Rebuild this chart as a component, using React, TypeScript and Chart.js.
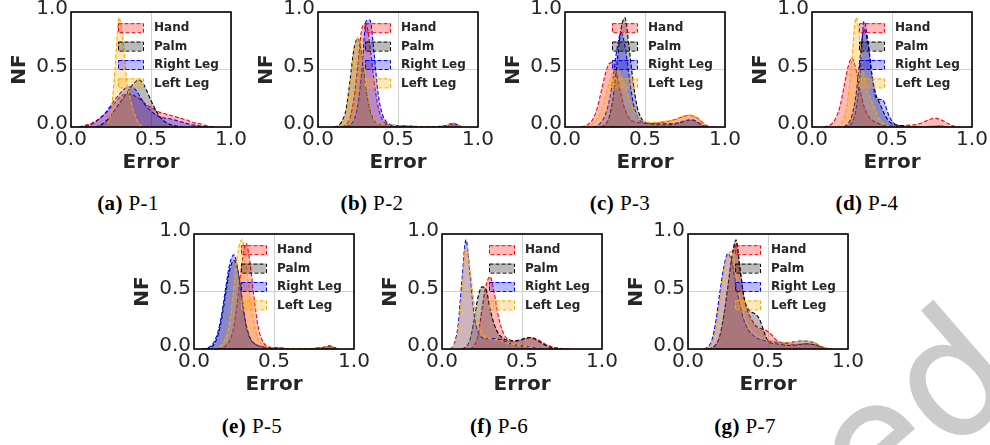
import React, { useEffect, useRef } from 'react';
import { Chart, registerables } from 'chart.js';

Chart.register(...registerables);

const _ = null;

// shared x grid (Error)
const XS = [
  0, 0.025, 0.05, 0.075, 0.1, 0.125, 0.15, 0.175, 0.2, 0.225,
  0.25, 0.275, 0.3, 0.325, 0.35, 0.375, 0.4, 0.425, 0.45, 0.475,
  0.5, 0.525, 0.55, 0.575, 0.6, 0.625, 0.65, 0.675, 0.7, 0.725,
  0.75, 0.775, 0.8, 0.825, 0.85, 0.875, 0.9, 0.925, 0.95, 0.975, 1.0,
];
const TICKS = [0, 0.5, 1.0];
const SERIES = ['Hand', 'Palm', 'Right Leg', 'Left Leg'];

// ---- P-1
const P1_HAND = [
  _, _, 0, .01, .02, .03, .05, .07, .1, .13,
  .17, .21, .25, .28, .29, .285, .27, .25, .22, .19,
  .17, .15, .13, .12, .11, .1, .09, .08, .07, .06,
  .045, .035, .03, .02, .01, .005, 0, _, _, _, _,
];
const P1_PALM = [
  _, _, _, _, _, _, 0, .01, .03, .06,
  .1, .15, .2, .25, .3, .35, .39, .41, .38, .31,
  .23, .16, .1, .06, .035, .02, .01, .005, 0, _,
  _, _, _, _, _, _, _, _, _, _, _,
];
const P1_RLEG = [
  _, _, 0, .005, .01, .02, .04, .07, .1, .14,
  .19, .24, .28, .32, .345, .35, .33, .28, .22, .17,
  .14, .11, .09, .08, .075, .07, .06, .05, .04, .03,
  .02, .015, .01, .005, 0, _, _, _, _, _, _,
];
const P1_LLEG = [
  _, _, _, _, _, _, _, _, 0, .02,
  .12, .5, .95, .75, .38, .22, .1, .03, 0, _,
  _, _, _, _, _, _, _, _, _, _,
  _, _, _, _, _, _, _, _, _, _, _,
];

// ---- P-2
const P2_HAND = [
  _, _, _, _, _, _, 0, .02, .08, .25,
  .55, .86, .9, .7, .4, .18, .07, .03, .015, .01,
  .008, .006, .005, .005, .005, .005, .005, .005, .005, .005,
  .005, .006, .01, .025, .03, .015, 0, _, _, _, _,
];
const P2_PALM = [
  _, _, _, _, 0, .01, .05, .15, .4, .68,
  .77, .62, .35, .15, .06, .03, .02, .02, .015, .015,
  .012, .01, .01, .008, .006, .005, .005, .005, .004, .004,
  .004, .006, .01, .02, .03, .015, 0, _, _, _, _,
];
const P2_RLEG = [
  _, _, _, _, _, _, _, 0, .02, .06,
  .2, .5, .92, .93, .65, .3, .12, .05, .02, .012,
  .01, .008, .006, .005, .005, .005, .005, .005, .005, .005,
  .005, .006, .01, .025, .03, .015, 0, _, _, _, _,
];
const P2_LLEG = [
  _, _, _, _, _, 0, .03, .12, .35, .65,
  .78, .66, .4, .18, .07, .03, .02, .018, .015, .013,
  .012, .01, .01, .008, .006, .005, .005, .005, .004, .004,
  .004, .006, .01, .025, .035, .015, 0, _, _, _, _,
];

// ---- P-3
const P3_HAND = [
  _, _, _, _, 0, .01, .03, .07, .16, .3,
  .45, .55, .56, .45, .28, .15, .08, .05, .04, .035,
  .03, .03, .03, .035, .04, .045, .05, .06, .07, .085,
  .095, .1, .095, .08, .05, .02, .005, 0, _, _, _,
];
const P3_PALM = [
  _, _, _, _, _, _, _, _, _, 0,
  .02, .08, .25, .55, .85, .95, .7, .4, .18, .08,
  .04, .03, .025, .02, .02, .02, .02, .025, .03, .04,
  .05, .06, .06, .045, .02, .005, 0, _, _, _, _,
];
const P3_RLEG = [
  _, _, _, _, _, _, _, 0, .01, .04,
  .1, .22, .42, .68, .82, .7, .45, .22, .1, .05,
  .04, .035, .03, .03, .03, .03, .03, .03, .035, .045,
  .055, .06, .06, .045, .025, .008, 0, _, _, _, _,
];
const P3_LLEG = [
  _, _, _, _, _, 0, .01, .03, .07, .14,
  .25, .38, .48, .5, .44, .35, .25, .16, .1, .06,
  .045, .04, .04, .04, .045, .05, .055, .06, .07, .085,
  .1, .105, .1, .08, .05, .02, .005, 0, _, _, _,
];

// ---- P-4
const P4_HAND = [
  _, _, _, 0, .01, .03, .08, .18, .35, .52,
  .6, .5, .32, .18, .1, .06, .04, .025, .015, .01,
  .008, .008, .01, .012, .015, .018, .02, .03, .045, .06,
  .072, .075, .068, .05, .03, .012, .003, 0, _, _, _,
];
const P4_PALM = [
  _, _, _, _, _, _, _, _, 0, .03,
  .1, .28, .6, .85, .72, .45, .28, .2, .12, .06,
  .03, .02, .015, .01, .005, .004, .004, .004, .004, .004,
  .005, .008, .008, .004, 0, _, _, _, _, _, _,
];
const P4_RLEG = [
  _, _, _, _, _, _, _, _, 0, .01,
  .04, .15, .45, .92, .75, .45, .25, .24, .22, .12,
  .05, .02, .01, .005, .005, .004, .004, .004, .004, .004,
  .006, .01, .01, .005, 0, _, _, _, _, _, _,
];
const P4_LLEG = [
  _, _, _, _, _, _, 0, .02, .08, .25,
  .6, .95, .75, .45, .3, .22, .13, .06, .025, .01,
  .005, .003, .003, .003, .003, .003, .003, .004, .005, .007,
  .01, .012, .01, .005, 0, _, _, _, _, _, _,
];

// ---- P-5
const P5_HAND = [
  _, _, _, _, _, _, 0, .01, .03, .08,
  .2, .45, .75, .92, .75, .45, .2, .08, .03, .015,
  .01, .008, .006, .005, .005, .005, .005, .005, .005, .005,
  .005, .006, .01, .02, .025, .012, 0, _, _, _, _,
];
const P5_PALM = [
  _, _, _, 0, .01, .04, .12, .28, .5, .7,
  .77, .68, .45, .22, .1, .05, .03, .02, .015, .012,
  .01, .008, .006, .005, .005, .005, .005, .005, .005, .005,
  .005, .006, .01, .02, .025, .012, 0, _, _, _, _,
];
const P5_RLEG = [
  _, _, 0, .005, .02, .06, .15, .32, .55, .75,
  .82, .68, .42, .2, .09, .05, .03, .02, .015, .012,
  .01, .008, .006, .005, .005, .005, .005, .005, .005, .005,
  .005, .006, .01, .02, .025, .012, 0, _, _, _, _,
];
const P5_LLEG = [
  _, _, _, _, _, 0, .01, .04, .1, .25,
  .55, .85, .95, .75, .45, .22, .09, .04, .02, .012,
  .01, .008, .006, .005, .005, .005, .005, .005, .005, .005,
  .005, .006, .01, .02, .03, .012, 0, _, _, _, _,
];

// ---- P-6
const P6_HAND = [
  _, _, _, _, _, _, _, 0, .03, .12,
  .35, .55, .63, .5, .3, .17, .1, .08, .07, .07,
  .08, .09, .1, .095, .08, .06, .04, .025, .015, .01,
  .005, .002, 0, _, _, _, _, _, _, _, _,
];
const P6_PALM = [
  _, _, _, _, _, 0, .02, .08, .25, .45,
  .54, .52, .35, .22, .14, .1, .08, .07, .07, .075,
  .085, .095, .1, .09, .07, .05, .03, .015, .005, 0,
  _, _, _, _, _, _, _, _, _, _, _,
];
const P6_RLEG = [
  _, _, 0, .04, .2, .6, .95, .65, .3, .15,
  .1, .09, .09, .09, .085, .08, .06, .045, .035, .03,
  .025, .02, .015, .01, .005, 0, _, _, _, _,
  _, _, _, _, _, _, _, _, _, _, _,
];
const P6_LLEG = [
  _, _, 0, .03, .15, .5, .9, .7, .4, .22,
  .14, .1, .09, .085, .08, .07, .055, .045, .035, .03,
  .025, .02, .015, .01, .005, 0, _, _, _, _,
  _, _, _, _, _, _, _, _, _, _, _,
];

// ---- P-7
const P7_HAND = [
  _, _, _, _, _, 0, .01, .04, .12, .3,
  .55, .82, .92, .7, .45, .32, .25, .2, .18, .17,
  .15, .12, .08, .06, .05, .045, .04, .04, .04, .045,
  .045, .04, .035, .02, .01, .005, 0, _, _, _, _,
];
const P7_PALM = [
  _, _, _, _, _, 0, .01, .04, .12, .3,
  .55, .8, .95, .7, .45, .35, .32, .3, .25, .15,
  .07, .05, .045, .04, .035, .03, .03, .035, .04, .045,
  .045, .04, .035, .02, .01, .003, 0, _, _, _, _,
];
const P7_RLEG = [
  _, _, _, _, 0, .02, .08, .25, .5, .72,
  .83, .75, .55, .38, .25, .17, .13, .1, .085, .075,
  .07, .065, .06, .055, .055, .055, .06, .065, .07, .07,
  .065, .06, .045, .025, .012, .004, 0, _, _, _, _,
];
const P7_LLEG = [
  _, _, _, _, 0, .01, .05, .18, .42, .68,
  .82, .85, .65, .45, .3, .2, .15, .12, .1, .085,
  .075, .07, .065, .06, .058, .058, .06, .065, .07, .072,
  .07, .065, .05, .03, .015, .005, 0, _, _, _, _,
];

// ---- styling / layout
const LINE_COLORS = ['#ff0000', '#000000', '#0000ff', '#ffa500'];
const FILL_COLORS = ['rgba(255,0,0,0.27)', 'rgba(0,0,0,0.27)', 'rgba(0,0,255,0.27)', 'rgba(255,165,0,0.27)'];
const TEXT = '#262626';
const GRID = '#d0d0d0';
const FONT = '"DejaVu Sans", sans-serif';
const PLOT_W = 160;
const PLOT_H = 116;
const Y_AXIS_W = 63;
const X_AXIS_H = 48;
const PAD_T = 14;
const PAD_R = 20;
const CANVAS_W = Y_AXIS_W + PLOT_W + PAD_R;
const CANVAS_H = PAD_T + PLOT_H + X_AXIS_H;

type Panel = { tag: string; name: string; left: number; top: number; capX: number; capY: number; series: (number | null)[][] };

const PANELS: Panel[] = [
  { tag: '(a)', name: 'P-1', left: 71, top: 11, capX: 128, capY: 203, series: [P1_HAND, P1_PALM, P1_RLEG, P1_LLEG] },
  { tag: '(b)', name: 'P-2', left: 318, top: 11, capX: 372, capY: 203, series: [P2_HAND, P2_PALM, P2_RLEG, P2_LLEG] },
  { tag: '(c)', name: 'P-3', left: 565, top: 11, capX: 620, capY: 203, series: [P3_HAND, P3_PALM, P3_RLEG, P3_LLEG] },
  { tag: '(d)', name: 'P-4', left: 812, top: 11, capX: 867, capY: 203, series: [P4_HAND, P4_PALM, P4_RLEG, P4_LLEG] },
  { tag: '(e)', name: 'P-5', left: 194, top: 233, capX: 252, capY: 426, series: [P5_HAND, P5_PALM, P5_RLEG, P5_LLEG] },
  { tag: '(f)', name: 'P-6', left: 442, top: 233, capX: 499, capY: 426, series: [P6_HAND, P6_PALM, P6_RLEG, P6_LLEG] },
  { tag: '(g)', name: 'P-7', left: 688, top: 233, capX: 745, capY: 426, series: [P7_HAND, P7_PALM, P7_RLEG, P7_LLEG] },
];

const legendPlugin = {
  id: 'kdeLegend',
  afterDatasetsDraw(chart: any) {
    const { ctx, chartArea } = chart;
    ctx.save();
    chart.data.datasets.forEach((ds: any, k: number) => {
      const cy = chartArea.top + 15.7 + k * 18.4;
      const px = chartArea.left + 47;
      ctx.fillStyle = FILL_COLORS[k];
      ctx.fillRect(px, cy - 4.5, 25, 9);
      ctx.setLineDash([4, 2]);
      ctx.strokeStyle = LINE_COLORS[k];
      ctx.lineWidth = 1;
      ctx.strokeRect(px + 0.5, cy - 4.5 + 0.5, 25, 9);
      ctx.setLineDash([]);
      ctx.fillStyle = TEXT;
      ctx.font = 'bold 12px ' + FONT;
      ctx.textBaseline = 'middle';
      ctx.textAlign = 'left';
      ctx.fillText(ds.label, chartArea.left + 83, cy + 0.5);
    });
    ctx.restore();
  },
};

const framePlugin = {
  id: 'frame',
  afterDraw(chart: any) {
    const { ctx, chartArea } = chart;
    ctx.save();
    ctx.strokeStyle = '#000';
    ctx.lineWidth = 1.6;
    ctx.strokeRect(chartArea.left, chartArea.top, chartArea.right - chartArea.left, chartArea.bottom - chartArea.top);
    ctx.restore();
  },
};

function KdePanel({ panel }: { panel: Panel }) {
  const ref = useRef<HTMLCanvasElement>(null);
  useEffect(() => {
    const tickFmt = (v: any) => Number(v).toFixed(1);
    const chart = new Chart(ref.current as HTMLCanvasElement, {
      type: 'line',
      data: {
        datasets: SERIES.map((name, k) => ({
          label: name,
          data: XS.map((x, i) => ({ x, y: panel.series[k][i] })),
          borderColor: LINE_COLORS[k],
          backgroundColor: FILL_COLORS[k],
          borderWidth: 1.1,
          borderDash: [4, 2],
          fill: 'origin',
          pointRadius: 0,
          cubicInterpolationMode: 'monotone',
          spanGaps: false,
          order: 4 - k,
        })) as any,
      },
      options: {
        responsive: false,
        animation: false,
        events: [],
        layout: { padding: { top: PAD_T, right: PAD_R, left: 0, bottom: 0 } },
        plugins: { legend: { display: false }, tooltip: { enabled: false } },
        scales: {
          x: {
            type: 'linear',
            min: 0,
            max: 1,
            afterFit: (s: any) => { s.height = X_AXIS_H; },
            afterBuildTicks: (s: any) => { s.ticks = TICKS.map((v) => ({ value: v })); },
            ticks: { callback: tickFmt, font: { family: FONT, size: 20 }, color: TEXT, padding: 1, maxRotation: 0, autoSkip: false },
            grid: { color: GRID, lineWidth: 1, drawTicks: false },
            border: { display: false },
            title: { display: true, text: 'Error', font: { family: FONT, size: 20, weight: 'bold' }, color: TEXT, padding: 0 },
          },
          y: {
            type: 'linear',
            min: 0,
            max: 1,
            afterFit: (s: any) => { s.width = Y_AXIS_W; },
            afterBuildTicks: (s: any) => { s.ticks = TICKS.map((v) => ({ value: v })); },
            ticks: { callback: tickFmt, font: { family: FONT, size: 20 }, color: TEXT, padding: 3, labelOffset: -3, autoSkip: false },
            grid: { color: GRID, lineWidth: 1, drawTicks: false },
            border: { display: false },
            title: { display: true, text: 'NF', font: { family: FONT, size: 20, weight: 'bold' }, color: TEXT, padding: 0 },
          },
        },
      } as any,
      plugins: [legendPlugin, framePlugin],
    });
    return () => chart.destroy();
  }, [panel]);
  return (
    <canvas
      ref={ref}
      width={CANVAS_W}
      height={CANVAS_H}
      style={{ position: 'absolute', left: panel.left - Y_AXIS_W, top: panel.top - PAD_T, width: CANVAS_W, height: CANVAS_H }}
    />
  );
}

export default function App() {
  return (
    <div style={{ position: 'fixed', left: 0, top: 0, width: 990, height: 445, overflow: 'hidden', background: '#fff' }}>
      <div
        style={{
          position: 'absolute', left: 780, top: 416, fontFamily: FONT, fontSize: 165, lineHeight: 1,
          color: '#cbcbcb', whiteSpace: 'nowrap', transform: 'rotate(-41deg)', transformOrigin: '0 0',
          WebkitTextStroke: '1.5px #cbcbcb',
        }}
      >
        ed
      </div>
      {PANELS.map((p) => (
        <KdePanel key={p.name} panel={p} />
      ))}
      {PANELS.map((p) => (
        <div
          key={'cap' + p.name}
          style={{
            position: 'absolute', left: p.capX, top: p.capY, transform: 'translate(-50%, -50%)',
            fontFamily: '"Liberation Serif", serif', fontSize: 21, lineHeight: 1, color: '#000',
            whiteSpace: 'nowrap', letterSpacing: 0.4,
          }}
        >
          <b>{p.tag}</b> {p.name}
        </div>
      ))}
    </div>
  );
}
